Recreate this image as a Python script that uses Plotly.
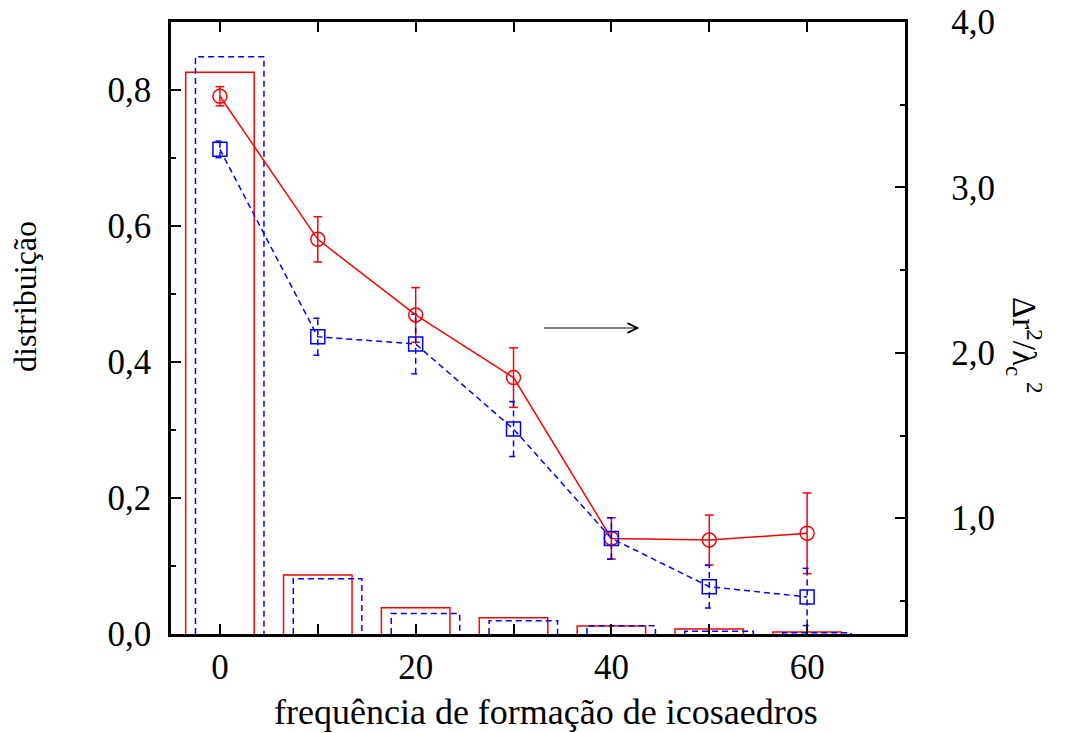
import plotly.graph_objects as go

# ---------------- data ----------------
freq = [0, 10, 20, 30, 40, 50, 60]

# distribution histograms (left axis)
dist_red = [0.826, 0.0868, 0.0387, 0.0240, 0.0118, 0.0074, 0.0030]
dist_blue = [0.849, 0.0813, 0.0300, 0.0196, 0.0122, 0.0040, 0.0020]

# displacement (right axis)
dr_red = [3.551, 2.686, 2.229, 1.850, 0.878, 0.868, 0.909]
dr_red_err = [0.058, 0.137, 0.165, 0.180, 0.125, 0.151, 0.244]
dr_blue = [3.230, 2.097, 2.053, 1.539, 0.878, 0.586, 0.524]
dr_blue_err = [0.050, 0.112, 0.180, 0.166, 0.125, 0.129, 0.173]

x_title = "frequência de formação de icosaedros"
y_title = "distribuição"
y2_title = "Δr<sup>2</sup>/λ<sub>c</sub><sup> 2</sup>"

# ---------------- style ----------------
RED = "#ff0000"
BLUE = "#0000ff"
FONT = "Liberation Serif"
BAR_W = 7.0
BLUE_SHIFT = 1.0
CAP = 0.45

fig = go.Figure()


def bar_outline(xs, hs, shift):
    px, py = [], []
    for x, h in zip(xs, hs):
        l, r = x + shift - BAR_W / 2, x + shift + BAR_W / 2
        px += [l, l, r, r, None]
        py += [0, h, h, 0, None]
    return px, py


bx, by = bar_outline(freq, dist_red, 0.0)
fig.add_trace(go.Scatter(x=bx, y=by, mode="lines", line=dict(color=RED, width=1.5),
                         showlegend=False, hoverinfo="skip"))
bx, by = bar_outline(freq, dist_blue, BLUE_SHIFT)
fig.add_trace(go.Scatter(x=bx, y=by, mode="lines",
                         line=dict(color=BLUE, width=1.5, dash="6px,4px"),
                         showlegend=False, hoverinfo="skip"))


def err_path(xs, ys, es):
    px, py = [], []
    for x, y, e in zip(xs, ys, es):
        px += [x, x, None, x - CAP, x + CAP, None, x - CAP, x + CAP, None]
        py += [y - e, y + e, None, y - e, y - e, None, y + e, y + e, None]
    return px, py


ex, ey = err_path(freq, dr_red, dr_red_err)
fig.add_trace(go.Scatter(x=ex, y=ey, yaxis="y2", mode="lines",
                         line=dict(color=RED, width=1.5), showlegend=False, hoverinfo="skip"))
ex, ey = err_path(freq, dr_blue, dr_blue_err)
fig.add_trace(go.Scatter(x=ex, y=ey, yaxis="y2", mode="lines",
                         line=dict(color=BLUE, width=1.5, dash="6px,4px"),
                         showlegend=False, hoverinfo="skip"))

fig.add_trace(go.Scatter(x=freq, y=dr_red, yaxis="y2", mode="lines+markers",
                         line=dict(color=RED, width=1.5),
                         marker=dict(symbol="circle-open", size=14, color=RED,
                                     line=dict(width=1.5, color=RED)),
                         showlegend=False))
fig.add_trace(go.Scatter(x=freq, y=dr_blue, yaxis="y2", mode="lines+markers",
                         line=dict(color=BLUE, width=1.5, dash="6px,4px"),
                         marker=dict(symbol="square-open", size=14, color=BLUE,
                                     line=dict(width=1.5, color=BLUE)),
                         showlegend=False))

TICK_SIZE = 35
axis_common = dict(showline=True, linecolor="black", linewidth=2.5, ticks="inside",
                   tickcolor="black", tickwidth=2, ticklen=10, showgrid=False,
                   zeroline=False, tickfont=dict(family=FONT, size=TICK_SIZE, color="black"))

fig.update_layout(
    width=1068, height=733,
    margin=dict(l=171, r=163, t=22, b=99, autoexpand=False),
    paper_bgcolor="white", plot_bgcolor="white",
    separators=",.",
    font=dict(family=FONT, size=32, color="black"),
    xaxis=dict(range=[-5, 70], tick0=0, dtick=20, mirror="allticks",
               minor=dict(dtick=10, ticks="inside", ticklen=5, tickwidth=2, tickcolor="black"),
               **axis_common),
    yaxis=dict(range=[0, 0.9], tick0=0, dtick=0.2, tickformat=".1f", ticklabelstandoff=10,
               minor=dict(dtick=0.1, ticks="inside", ticklen=5, tickwidth=2, tickcolor="black"),
               **axis_common),
    yaxis2=dict(range=[0.3, 4.0], tick0=0, dtick=1, tickformat=".1f", overlaying="y",
                side="right", tickprefix="\u2002", ticklabelstandoff=19,
                minor=dict(dtick=0.5, ticks="inside", ticklen=5, tickwidth=2, tickcolor="black"),
                **axis_common),
)

fig.add_annotation(x=42.86, y=0.45, ax=32.96, ay=0.45, xref="x", yref="y",
                   axref="x", ayref="y", showarrow=True, arrowhead=5, arrowsize=1.6,
                   arrowwidth=1.2, arrowcolor="black", text="")

# title annotations placed in paper coordinates derived from pixel layout
L, R, T, B = 171, 905, 22, 634
pw, ph = R - L, B - T


def px2paper(xp, yp):
    return (xp - L) / pw, (B - yp) / ph


for text, (xp, yp), ang, size in [
    (x_title, (546, 712), 0, 36),
    (y_title, (25, 297), -90, 32),
    (y2_title, (1025, 345), 90, 33),
]:
    xx, yy = px2paper(xp, yp)
    fig.add_annotation(x=xx, y=yy, xref="paper", yref="paper", text=text, textangle=ang,
                       showarrow=False, xanchor="center", yanchor="middle",
                       font=dict(family=FONT, size=size, color="black"))

fig.write_html("out.html")
